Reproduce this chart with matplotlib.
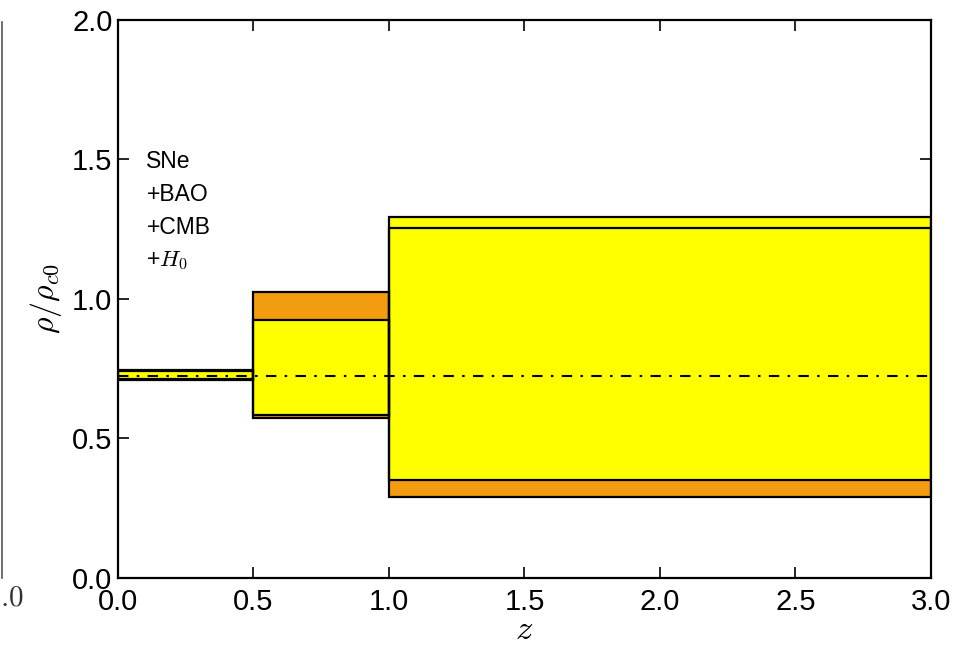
#! /usr/bin/env python

import matplotlib
matplotlib.use('Agg')
import matplotlib.pyplot as plt
from matplotlib.patches import Rectangle

plt.rcParams['font.family'] = ['Liberation Sans', 'DejaVu Sans']
plt.rcParams['mathtext.fontset'] = 'cm'

# redshift bins and density constraints (rho / rho_c0)
z_edges = [0.0, 0.5, 1.0, 3.0]
outer_lo = [0.710, 0.575, 0.290]
outer_hi = [0.745, 1.025, 1.255]
inner_lo = [0.713, 0.585, 0.352]
inner_hi = [0.742, 0.923, 1.295]
lcdm_level = 0.725

COL_OUTER = '#f39c0f'
COL_INNER = '#ffff00'


def draw_bands(ax):
	"""Fill the bins first, then outline every box on top"""
	for i in range(len(z_edges) - 1):
		x0, w = z_edges[i], z_edges[i + 1] - z_edges[i]
		ax.add_patch(Rectangle((x0, outer_lo[i]), w, outer_hi[i] - outer_lo[i],
							   fc=COL_OUTER, ec='none', zorder=1))
		ax.add_patch(Rectangle((x0, inner_lo[i]), w, inner_hi[i] - inner_lo[i],
							   fc=COL_INNER, ec='none', zorder=2))
	for i in range(len(z_edges) - 1):
		x0, w = z_edges[i], z_edges[i + 1] - z_edges[i]
		for lo, hi in [(outer_lo[i], outer_hi[i]), (inner_lo[i], inner_hi[i])]:
			ax.add_patch(Rectangle((x0, lo), w, hi - lo, fc='none', ec='black',
								   lw=1.6, zorder=3))


def main():
	fig = plt.figure(figsize=(9.71, 6.45), dpi=100)
	ax = fig.add_axes([0.1215, 0.1039, 0.8373, 0.8651])

	draw_bands(ax)
	ax.plot([z_edges[0], z_edges[-1]], [lcdm_level, lcdm_level], color='black',
			lw=1.5, ls=(0, (5, 4, 1.2, 4)), zorder=4)

	ax.text(0.105, 1.535, 'SNe\n+BAO\n+CMB\n+$H_0$', fontsize=16.5, va='top',
			ha='left', linespacing=1.55)

	ax.set_xlim(0, 3)
	ax.set_ylim(0, 2)
	ax.set_xticks([0, 0.5, 1.0, 1.5, 2.0, 2.5, 3.0])
	ax.set_yticks([0, 0.5, 1.0, 1.5, 2.0])
	ax.xaxis.set_major_formatter(matplotlib.ticker.FormatStrFormatter('%.1f'))
	ax.yaxis.set_major_formatter(matplotlib.ticker.FormatStrFormatter('%.1f'))
	ax.tick_params(direction='in', length=8, width=1.2, labelsize=21,
				   top=True, right=True, pad=4)
	ax.tick_params(axis='x', pad=7)
	for sp in ax.spines.values():
		sp.set_linewidth(1.6)

	ax.set_xlabel('$z$', fontsize=25, labelpad=-2)
	ax.set_ylabel(r'$\rho/\rho_{c0}$', fontsize=23, labelpad=6)

	# edge of the neighbouring panel
	fig.add_artist(plt.Line2D([0.002, 0.002], [0.104, 0.966], color='#555555',
							  lw=1.2, transform=fig.transFigure))
	fig.text(-0.014, 0.073, '$1.0$', fontsize=21, ha='left', va='center', color='#333333')

	fig.savefig('out.png', dpi=100)


if __name__ == '__main__':
	main()
